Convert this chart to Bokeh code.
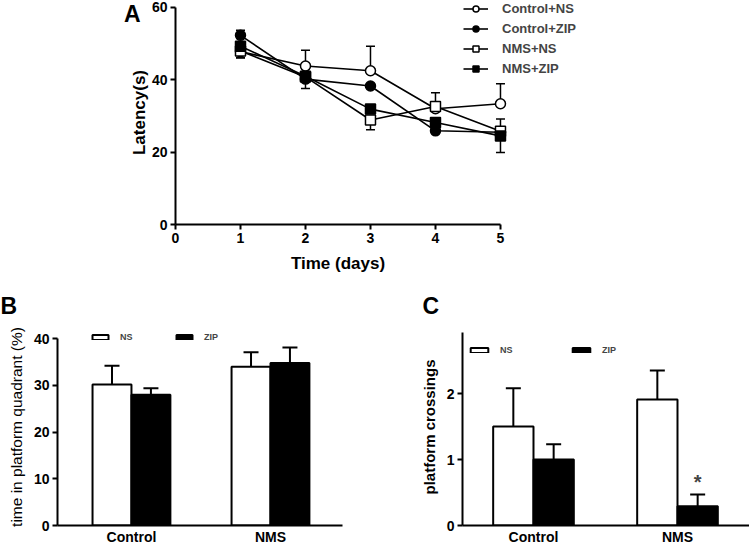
from bokeh.plotting import figure
from bokeh.models import (ColumnDataSource, Whisker, TeeHead, Legend, LegendItem,
                          FixedTicker, Label, Range1d, Title, LinearAxis)
from bokeh.layouts import column, row
from bokeh.embed import file_html
from bokeh.resources import INLINE

FONT = "Liberation Sans"

# ---------------- Panel A data ----------------
days = [1, 2, 3, 4, 5]
ctrl_ns = [47.8, 43.8, 42.5, 32.0, 33.4]
ctrl_ns_up = [0, 4.4, 6.8, 0, 5.5]
ctrl_ns_dn = [1.8, 0, 0, 0, 0]
ctrl_zip = [52.3, 40.2, 38.3, 25.9, 25.5]
ctrl_zip_up = [1.4, 0, 0, 0, 0]
ctrl_zip_dn = [0, 0, 0, 0, 0]
nms_ns = [48.0, 40.8, 28.9, 32.6, 25.8]
nms_ns_up = [0, 0, 0, 3.8, 0]
nms_ns_dn = [1.8, 0, 2.7, 0, 0]
nms_zip = [49.3, 41.0, 31.9, 28.2, 24.5]
nms_zip_up = [0, 0, 0, 0, 4.7]
nms_zip_dn = [0, 3.4, 0, 0, 4.6]
series_names = ["Control+NS", "Control+ZIP", "NMS+NS", "NMS+ZIP"]
day_ticks = [0, 1, 2, 3, 4, 5]
lat_ticks = [0, 20, 40, 60]

# ---------------- Panel B / C data ----------------
groups = ["Control", "NMS"]
b_ns = [30.2, 34.0]
b_ns_err = [4.0, 3.1]
b_zip = [28.0, 34.8]
b_zip_err = [1.4, 3.3]
c_ns = [1.50, 1.91]
c_ns_err = [0.58, 0.44]
c_zip = [1.00, 0.29]
c_zip_err = [0.23, 0.18]
bar_labels = ["NS", "ZIP"]


def style_axis(ax, fs="14px"):
    ax.axis_line_width = 2
    ax.major_tick_line_width = 2
    ax.major_tick_in = 0
    ax.major_tick_out = 5
    ax.minor_tick_line_color = None
    ax.major_label_text_font = FONT
    ax.major_label_text_font_style = "bold"
    ax.major_label_text_font_size = fs
    ax.major_label_text_color = "black"
    ax.major_label_standoff = 3
    ax.axis_label_text_font = FONT
    ax.axis_label_text_font_style = "bold"
    ax.axis_label_text_color = "black"
    ax.axis_line_color = "black"
    ax.major_tick_line_color = "black"


def style_fig(p, fs="14px"):
    for ax in (p.xaxis[0], p.yaxis[0]):
        style_axis(ax, fs)
    p.xgrid.grid_line_color = None
    p.ygrid.grid_line_color = None
    p.outline_line_color = None


def text_axis(p, side, pos, text, fs, standoff):
    # an axis used only to carry one piece of text at a data position
    ax = LinearAxis(ticker=FixedTicker(ticks=[pos]),
                    major_label_overrides={pos: text})
    style_axis(ax, fs)
    ax.axis_line_color = None
    ax.major_tick_line_color = None
    ax.major_tick_out = 0
    ax.major_label_standoff = standoff
    p.add_layout(ax, side)
    return ax


# ================= Panel A =================
HA = 285
YA_END = 61.93
pa = figure(width=750, height=HA, output_backend="svg", toolbar_location=None,
            x_range=Range1d(0, 6.385), y_range=Range1d(0, YA_END),
            min_border_left=175, min_border_right=160, min_border_top=0,
            min_border_bottom=HA - 224)
style_fig(pa, "14px")
pa.xaxis.ticker = FixedTicker(ticks=day_ticks)
pa.yaxis.ticker = FixedTicker(ticks=lat_ticks)
pa.xaxis.bounds = (day_ticks[0], day_ticks[-1])
pa.yaxis.bounds = (lat_ticks[0], lat_ticks[-1])
pa.yaxis.axis_label = "Latency(s)"
pa.yaxis.axis_label_text_font_size = "17px"
pa.yaxis.axis_label_standoff = 0
text_axis(pa, "below", (day_ticks[0] + day_ticks[-1]) / 2, "Time (days)", "17px", 8)
text_axis(pa, "left", 58.6, "A", "23px", -14)

specs = [
    (ctrl_ns, ctrl_ns_up, ctrl_ns_dn, "circle", "white"),
    (ctrl_zip, ctrl_zip_up, ctrl_zip_dn, "circle", "black"),
    (nms_ns, nms_ns_up, nms_ns_dn, "square", "white"),
    (nms_zip, nms_zip_up, nms_zip_dn, "square", "black"),
]
items = []
for name, (vals, up, dn, mk, fill) in zip(series_names, specs):
    src = ColumnDataSource(dict(
        x=days, y=vals,
        hi=[v + u for v, u in zip(vals, up)],
        lo=[v - d for v, d in zip(vals, dn)],
    ))
    pa.add_layout(Whisker(base="x", upper="hi", lower="y", source=src, dimension="height",
                          line_color="black", line_width=1.5,
                          upper_head=TeeHead(size=9, line_width=1.5, line_color="black"),
                          lower_head=None))
    pa.add_layout(Whisker(base="x", upper="y", lower="lo", source=src, dimension="height",
                          line_color="black", line_width=1.5,
                          lower_head=TeeHead(size=9, line_width=1.5, line_color="black"),
                          upper_head=None))
    lr = pa.line("x", "y", source=src, line_color="black", line_width=1.6)
    sr = pa.scatter("x", "y", source=src, marker=mk, size=10,
                    fill_color=fill, line_color="black", line_width=1.5)
    items.append(LegendItem(label=name, renderers=[lr, sr]))

lega = Legend(items=items, location=(288, 148), background_fill_alpha=0,
              border_line_color=None, glyph_width=25, glyph_height=15,
              label_height=15, spacing=5, label_standoff=14, padding=0, margin=0,
              label_text_font=FONT, label_text_font_style="bold",
              label_text_font_size="13px")
pa.add_layout(lega)

# ================= Panels B, C =================
pos = [1, 2]
off = 0.14
bw = 0.28
HB = 547 - HA


def bar_panel(width, xr, yr, ybounds, yticks, ns, ns_err, zp, zp_err,
              mbl, mbr, ylabel, ylabel_bold, leg_loc, leg_spacing, gw,
              label_fs, letter, letter_off):
    p = figure(width=width, height=HB, output_backend="svg", toolbar_location=None,
               x_range=Range1d(*xr), y_range=Range1d(*yr),
               min_border_left=mbl, min_border_right=mbr, min_border_top=0,
               min_border_bottom=22)
    style_fig(p, "14px")
    p.xaxis.ticker = FixedTicker(ticks=pos)
    p.xaxis.major_label_overrides = {k: g for k, g in zip(pos, groups)}
    p.xaxis.major_tick_line_color = None
    p.xaxis.major_tick_out = 0
    p.xaxis.major_label_standoff = 3
    p.yaxis.ticker = FixedTicker(ticks=yticks)
    p.yaxis.bounds = ybounds
    p.yaxis.axis_label = ylabel
    p.yaxis.axis_label_text_font_size = label_fs
    p.yaxis.axis_label_text_font_style = "bold" if ylabel_bold else "normal"
    p.yaxis.axis_label_standoff = 6
    p.add_layout(Title(text=letter, align="left", offset=letter_off,
                       text_font=FONT, text_font_style="bold", text_color="black",
                       text_font_size="23px", standoff=15, vertical_align="top"),
                 "above")

    xs_ns = [x - off for x in pos]
    xs_zp = [x + off for x in pos]
    s_ns = ColumnDataSource(dict(x=xs_ns, top=ns, hi=[v + e for v, e in zip(ns, ns_err)]))
    s_zp = ColumnDataSource(dict(x=xs_zp, top=zp, hi=[v + e for v, e in zip(zp, zp_err)]))
    for s in (s_ns, s_zp):
        p.add_layout(Whisker(base="x", upper="hi", lower="top", source=s,
                             dimension="height", line_color="black", line_width=2,
                             upper_head=TeeHead(size=15, line_width=2, line_color="black"),
                             lower_head=None))
    r1 = p.vbar(x="x", top="top", width=bw, source=s_ns, fill_color="white",
                line_color="black", line_width=2)
    r2 = p.vbar(x="x", top="top", width=bw, source=s_zp, fill_color="black",
                line_color="black", line_width=2)
    leg = Legend(items=[LegendItem(label=bar_labels[0], renderers=[r1]),
                        LegendItem(label=bar_labels[1], renderers=[r2])],
                 location=leg_loc, orientation="horizontal",
                 background_fill_alpha=0, border_line_color=None,
                 glyph_width=gw, glyph_height=6, label_height=8, padding=0,
                 margin=0, spacing=leg_spacing, label_standoff=10,
                 label_text_font=FONT, label_text_font_style="bold",
                 label_text_font_size="9px")
    p.add_layout(leg)
    return p


pb = bar_panel(380, (0.468, 2.518), (0, 42.17), (0, 40), [0, 10, 20, 30, 40],
               b_ns, b_ns_err, b_zip, b_zip_err, 57, 38,
               "time in platform quadrant (%)", False, (33, 183), 34, 20, "15.5px",
               "B", -57)

pc = bar_panel(369, (0.507, 2.5), (0, 2.985), (0, 2.93), [0, 1, 2],
               c_ns, c_ns_err, c_zip, c_zip_err, 82, 0,
               "platform crossings", True, (6, 170), 50, 22, "15px",
               "C", -40)
pc.add_layout(Label(x=2 + off, y=c_zip[1] + c_zip_err[1] + 0.02, text="*",
                    text_font=FONT, text_font_style="bold", text_font_size="20px",
                    text_align="center", text_baseline="bottom"))

layout = column(pa, row(pb, pc, spacing=0), spacing=0)
open("out.html", "w").write(file_html(layout, INLINE))
